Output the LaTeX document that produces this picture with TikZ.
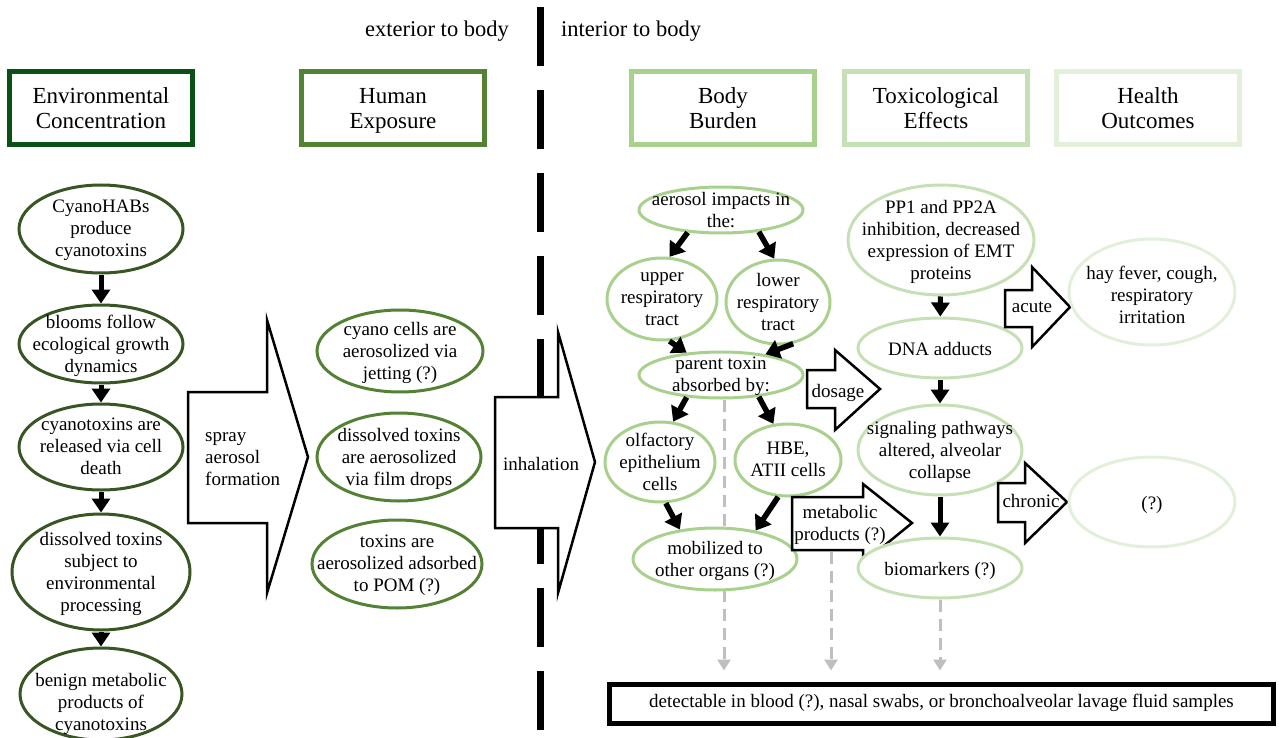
\documentclass[tikz,border=0pt]{standalone}
\usepackage{fontspec}
\setmainfont{Liberation Serif}
\usetikzlibrary{shapes.geometric,arrows.meta}
\pgfdeclarelayer{bg}
\pgfsetlayers{bg,main}
\definecolor{cEnv}{HTML}{0B5016}
\definecolor{cEnvE}{HTML}{375623}
\definecolor{cHum}{HTML}{548235}
\definecolor{cBody}{HTML}{A9D18E}
\definecolor{cTox}{HTML}{C5E0B4}
\definecolor{cHea}{HTML}{E2F0D9}
\definecolor{cGray}{HTML}{BFBFBF}
\newcommand\myell[8][]{\node[ell,draw=#7,minimum width=#5pt,minimum height=#6pt,label={[lab,#1]center:{#8}}] (#2) at (#3,#4) {};}
\newcommand\myhead[5]{\node[hbox,draw=#4,label={[htxt]center:{#5}}] (#1) at (#2,#3) {};}
\begin{document}
\begin{tikzpicture}[x=1pt,y=-1pt,
  every node/.style={font=\fontsize{19}{22}\selectfont, text=black},
  hbox/.style={draw, line width=5pt, minimum width=183pt, minimum height=73pt, inner sep=0pt, fill=white},
  htxt/.style={align=center, inner sep=0pt, yshift=-4pt, font=\fontsize{23}{25}\selectfont, execute at begin node=\strut, execute at end node=\strut},
  ell/.style={ellipse, line width=3pt, fill=white, inner sep=0pt},
  lab/.style={align=center, inner sep=0pt, yshift=-3pt, font=\fontsize{19}{22}\selectfont, execute at begin node=\strut, execute at end node=\strut},
  thk/.style={line width=5pt, -{Triangle[length=14pt,width=18pt]}},
  thkb/.style={line width=5.5pt, -{Triangle[length=14pt,width=19pt]}},
  barr/.style={draw, line width=2.5pt, fill=white, line join=miter},
  gdash/.style={draw=cGray, line width=3pt, dash pattern=on 12pt off 7pt, -{Triangle[length=11pt,width=13pt]}, shorten >=11pt},
  top/.style={font=\fontsize{22.5}{25}\selectfont}
]
\useasboundingbox (0,0) rectangle (1282,738);

% top labels
\node[top] (ext) at (437,31) {exterior to body};
\node[top] (int) at (631,31) {interior to body};

% header boxes
\myhead{hEnv}{101}{108}{cEnv}{Environmental\\Concentration}
\myhead{hHum}{393}{108}{cHum}{Human\\Exposure}
\myhead{hBody}{723}{108}{cBody}{Body\\Burden}
\myhead{hTox}{936}{108}{cTox}{Toxicological\\Effects}
\myhead{hHea}{1148}{108}{cHea}{Health\\Outcomes}

% environmental column
\myell{c1}{101}{229}{164}{88}{cEnvE}{CyanoHABs\\produce\\cyanotoxins}
\myell{c2}{101}{344}{164}{78}{cEnvE}{blooms follow\\ecological growth\\dynamics}
\myell{c3}{101}{447}{164}{86}{cEnvE}{cyanotoxins are\\released via cell\\death}
\myell{c4}{101}{572}{178}{116}{cEnvE}{dissolved toxins\\subject to\\environmental\\processing}
\myell[yshift=-8pt]{c5}{101}{694}{162}{92}{cEnvE}{benign metabolic\\products of\\cyanotoxins}
\draw[thk] (c1) -- (c2);
\draw[thk] (c2) -- (c3);
\draw[thk] (c3) -- (c4);
\draw[thk] (c4) -- (c5);

% spray aerosol formation
\draw[barr] (188,392) -- (267,392) -- (267,320) -- (308,457) -- (267,593) -- (267,523) -- (188,523) -- cycle;
\node[lab, anchor=west, align=left] (spray) at (205,459) {spray\\aerosol\\formation};

% human exposure
\myell{h1}{400}{351}{166}{82}{cHum}{cyano cells are\\aerosolized via\\jetting (?)}
\myell{h2}{399}{457}{164}{88}{cHum}{dissolved toxins\\are aerosolized\\via film drops}
\myell{h3}{397}{564}{170}{88}{cHum}{toxins are\\aerosolized adsorbed\\to POM (?)}

% divider
\begin{pgfonlayer}{bg}
\draw[line width=7pt, dash pattern=on 59pt off 24pt] (540,7) -- (540,738);
\end{pgfonlayer}

% inhalation
\draw[barr] (495,397) -- (558,397) -- (558,332) -- (595,462) -- (558,593) -- (558,528) -- (495,528) -- cycle;
\node[lab] (inh) at (541,463) {inhalation};

% body burden
\myell{aer}{721}{210}{164}{46}{cBody}{aerosol impacts in\\the:}
\myell{up}{662}{299}{110}{82}{cBody}{upper\\respiratory\\tract}
\myell{low}{778}{302}{104}{84}{cBody}{lower\\respiratory\\tract}
\myell{par}{721}{375}{164}{46}{cBody}{parent toxin\\absorbed by:}
\myell{olf}{660}{462}{110}{80}{cBody}{olfactory\\epithelium\\cells}
\myell{hbe}{788}{460}{106}{72}{cBody}{HBE,\\ATII cells}
\myell{mob}{715}{559}{164}{62}{cBody}{mobilized to\\other organs (?)}
\draw[thkb] (aer.214) -- (up.80);
\draw[thkb] (aer.330) -- (low.95);
\draw[thkb] (up.280) -- (par.147);
\draw[thkb] (low.290) -- (par.25);
\draw[thkb] (par.213) -- (olf.72);
\draw[thkb] (par.330) -- (hbe.112);
\draw[thkb] (olf.278) -- (mob.140);
\draw[thkb] (hbe.255) -- (mob.35);

% dosage
\draw[barr] (807,370) -- (835,370) -- (835,350) -- (880,389) -- (835,430) -- (835,408) -- (807,408) -- cycle;
\node[lab] (dos) at (838,390) {dosage};

% metabolic products
\draw[barr] (792,497) -- (863,497) -- (863,484) -- (912,523) -- (863,563) -- (863,550) -- (792,550) -- cycle;
\node[lab] (met) at (840,523) {metabolic\\products (?)};
\coordinate (metb) at (831,552);

% toxicological
\myell{pp}{941}{240}{186}{110}{cTox}{PP1 and PP2A\\inhibition, decreased\\expression of EMT\\proteins}
\myell{dna}{940}{348}{164}{60}{cTox}{DNA adducts}
\myell{sig}{940}{450}{164}{90}{cTox}{signaling pathways\\altered, alveolar\\collapse}
\myell{bio}{940}{568}{164}{60}{cTox}{biomarkers (?)}
\draw[thk] (pp) -- (dna);
\draw[thk] (dna) -- (sig);
\draw[thk] (sig) -- (bio);

% acute / chronic
\draw[barr] (1005,290) -- (1032,290) -- (1032,267) -- (1070,307) -- (1032,347) -- (1032,327) -- (1005,327) -- cycle;
\node[lab] (acu) at (1032,305) {acute};
\draw[barr] (998,483) -- (1025,483) -- (1025,463) -- (1067,502) -- (1025,543) -- (1025,522) -- (998,522) -- cycle;
\node[lab] (chr) at (1031,500) {chronic};

% health outcomes
\myell[yshift=-3pt]{hay}{1152}{292}{166}{106}{cHea}{hay fever, cough,\\respiratory\\irritation}
\myell{unk}{1152}{502}{166}{90}{cHea}{(?)}

% detection box
\node[draw, line width=5pt, minimum width=664pt, minimum height=39pt, inner sep=0pt] (det) at (941.5,703.5) {\strut detectable in blood (?), nasal swabs, or bronchoalveolar lavage fluid samples};
\coordinate (g1) at (724,0);
\begin{pgfonlayer}{bg}
\draw[gdash] (par.south -| g1) -- (det.north -| g1);
\draw[gdash] (metb) -- (det.north -| metb);
\draw[gdash] (bio.south) -- (det.north -| bio);
\end{pgfonlayer}
\end{tikzpicture}
\end{document}
